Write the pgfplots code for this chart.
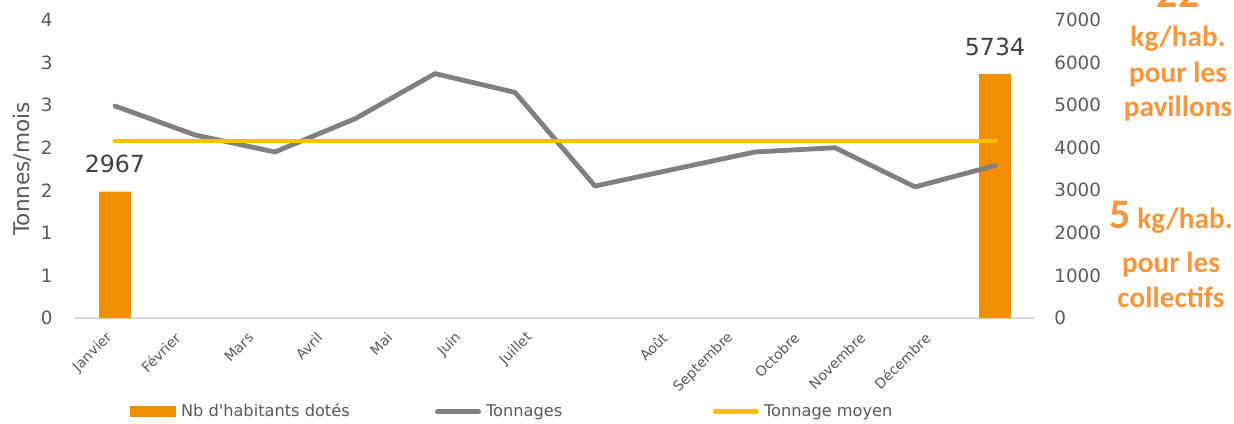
\documentclass[border=0pt]{standalone}
\usepackage{pgfplots}
\pgfplotsset{compat=1.18}
\usepackage{fontspec}
\setmainfont{DejaVu Sans}[Ligatures=TeXOff]
\newfontfamily\carlito{Carlito}
\definecolor{barorange}{RGB}{240,143,0}
\definecolor{txtorange}{RGB}{247,150,60}
\definecolor{linegray}{RGB}{128,128,128}
\definecolor{avgyellow}{RGB}{255,192,0}
\definecolor{ticktext}{RGB}{89,89,89}
\definecolor{labeltext}{RGB}{64,64,64}
\definecolor{baseline}{RGB}{217,217,217}
\begin{document}
\begin{tikzpicture}
\path[use as bounding box] (0,0) rectangle (617pt,-211.5pt);
\pgfplotsset{
  common/.style={
    at={(37.5pt,-159pt)}, anchor=south west,
    scale only axis, width=480pt, height=149pt,
    xmin=-0.5, xmax=11.5,
    /pgf/number format/assume math mode=true,
    /pgf/number format/1000 sep={},
    scaled y ticks=false,
    clip=false,
    major tick length=0pt,
    axis x line*=bottom,
  }
}
% Secondary axis: bars (drawn first, behind lines)
\begin{axis}[common,
  ymin=0, ymax=7000, ytick={0,1000,...,7000},
  axis y line*=right,
  y axis line style={draw=none},
  x axis line style={draw=baseline, line width=1pt, -},
  yticklabel style={font=\fontsize{9.15}{11}\selectfont, color=ticktext, anchor=west, inner sep=0pt, xshift=9.5pt},
  xtick={-0.0625,0.7875,1.7,2.5625,3.4375,4.3,5.1875,6.875,7.7,8.525,9.35,10.1625},
  xticklabels={Janvier,Février,Mars,Avril,Mai,Juin,Juillet,Août,Septembre,Octobre,Novembre,Décembre},
  xticklabel style={yshift=-8.5pt, rotate=45, anchor=east, inner sep=0pt, font=\fontsize{7}{8}\selectfont, color=ticktext},
  legend columns=3,
  legend cell align=left,
  legend style={at={(axis description cs:0.0573,-0.315)}, anchor=west, draw=none, fill=none,
    inner sep=0pt, outer sep=0pt, font=\fontsize{8.1}{10}\selectfont, text=ticktext,
    nodes={inner sep=0pt},
    /tikz/every odd column/.append style={column sep=2.5pt}},
]
\addplot[ybar, bar width=16pt, fill=barorange, draw=none,
  nodes near coords,
  nodes near coords style={font=\fontsize{11.8}{14}\selectfont, color=labeltext, anchor=south, inner sep=0pt, yshift=9pt},
  legend image code/.code={\fill[barorange] (0pt,-2.75pt) rectangle (23pt,2.75pt);}]
  coordinates {(0,2967) (11,5734)};
\addlegendentry{\makebox[127pt][l]{Nb d'habitants dotés}}
\addlegendimage{legend image code/.code={\draw[linegray, line width=2.4pt, line cap=round] (1.2pt,0pt) -- (21.8pt,0pt);}}
\addlegendentry{\makebox[113.5pt][l]{Tonnages}}
\addlegendimage{legend image code/.code={\draw[avgyellow, line width=2.4pt, line cap=round] (1.2pt,0pt) -- (21.8pt,0pt);}}
\addlegendentry{Tonnage moyen}
\end{axis}
% Primary axis: lines
\begin{axis}[common,
  ymin=0, ymax=3.5, ytick={0,0.5,...,3.5},
  yticklabels={0,1,1,2,2,3,3,4},
  axis y line*=left,
  axis line style={draw=none},
  xtick=\empty,
  yticklabel style={font=\fontsize{9.15}{11}\selectfont, color=ticktext, anchor=east, inner sep=0pt, xshift=-11pt},
]
\addplot[linegray, line width=2.4pt, line join=round, line cap=round] coordinates {
  (0,2.49) (1,2.15) (2,1.95) (3,2.34) (4,2.87) (5,2.65)
  (6,1.55) (7,1.75) (8,1.95) (9,2.00) (10,1.54) (11,1.79)};
\addplot[avgyellow, line width=2.4pt, line cap=round] coordinates {(0,2.08) (11,2.08)};
\end{axis}
\node[rotate=90, font=\fontsize{10.8}{13}\selectfont, color=ticktext] at (11pt,-84.5pt) {Tonnes/mois};
\begin{scope}[every node/.style={anchor=base, color=txtorange, inner sep=0pt}]
\node[font=\carlito\bfseries\fontsize{21}{25}\selectfont] at (589pt,-3.5pt) {22};
\node[font=\carlito\bfseries\fontsize{14.65}{17}\selectfont] at (589pt,-23pt) {kg/hab.};
\node[font=\carlito\bfseries\fontsize{14.65}{17}\selectfont] at (589pt,-41pt) {pour les};
\node[font=\carlito\bfseries\fontsize{14.65}{17}\selectfont] at (589pt,-58pt) {pavillons};
\node[font=\carlito\bfseries\fontsize{14.65}{17}\selectfont] at (585.5pt,-114pt) {{\fontsize{21}{25}\selectfont 5} kg/hab.};
\node[font=\carlito\bfseries\fontsize{14.65}{17}\selectfont] at (585.5pt,-136pt) {pour les};
\node[font=\carlito\bfseries\fontsize{14.65}{17}\selectfont] at (585.5pt,-153.5pt) {collectifs};
\end{scope}
\end{tikzpicture}
\end{document}
